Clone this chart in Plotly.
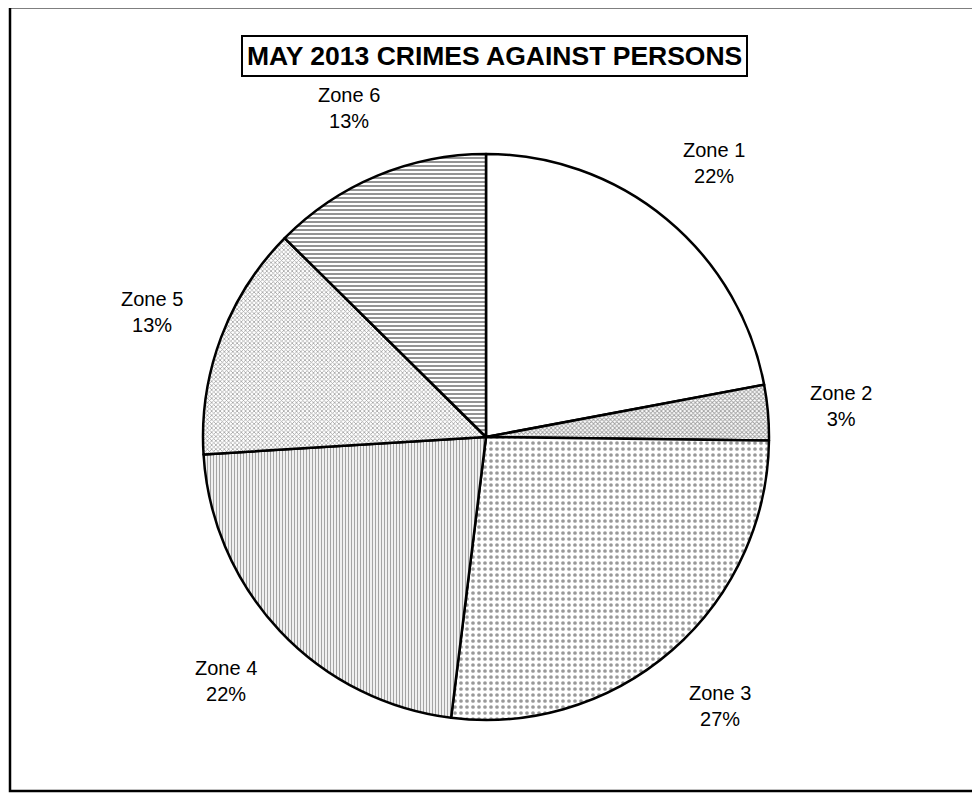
import math
import plotly.graph_objects as go

# ---- data ----
zones = ["Zone 1", "Zone 2", "Zone 3", "Zone 4", "Zone 5", "Zone 6"]
counts = [28, 4, 34, 28, 17, 16]
title_text = "MAY 2013 CRIMES AGAINST PERSONS"

# ---- layout geometry (figure pixels; page has an 8px body margin) ----
OFF = 8
W, H = 980 - OFF, 799 - OFF
CX, CY, R = 486 - OFF, 437 - OFF, 283
LABEL_K = 1.26

shapes_ = ["", "x", ".", "|", "x", "-"]
fg = ["#000000", "#3a3a3a", "#333333", "#4a4a4a", "#444444", "#2a2a2a"]
sizes = [6, 3, 6, 3, 3, 4]
solid = [0.3, 0.5, 0.3, 0.45, 0.45, 0.5]

dom_x = [(CX - R) / W, (CX + R) / W]
dom_y = [1 - (CY + R) / H, 1 - (CY - R) / H]

fig = go.Figure(go.Pie(
    labels=zones,
    values=counts,
    sort=False,
    direction="clockwise",
    rotation=0,
    textinfo="none",
    hoverinfo="label+percent",
    showlegend=False,
    domain=dict(x=dom_x, y=dom_y),
    marker=dict(
        colors=["white"] * len(zones),
        line=dict(color="black", width=2.5),
        pattern=dict(shape=shapes_, fgcolor=fg, bgcolor="white",
                     size=sizes, solidity=solid, fillmode="overlay"),
    ),
))

# labels placed at slice mid-angles
total = sum(counts)
annotations = []
cum = 0
for z, c in zip(zones, counts):
    mid = (cum + c / 2) / total
    cum += c
    th = 2 * math.pi * mid
    px = CX + LABEL_K * R * math.sin(th)
    py = CY - LABEL_K * R * math.cos(th)
    pct = round(100 * c / total)
    annotations.append(dict(
        x=px / W, y=1 - py / H, xref="paper", yref="paper",
        text=f"{z}<br>{pct}%", showarrow=False,
        font=dict(family="Arial, Liberation Sans, sans-serif", size=20, color="black"),
        align="center", xanchor="center", yanchor="middle",
    ))

annotations.append(dict(
    x=(494 - OFF) / W, y=1 - (56 - OFF) / H, xref="paper", yref="paper",
    text=f"<b>{title_text}</b>", showarrow=False,
    font=dict(family="Arial, Liberation Sans, sans-serif", size=26.5, color="black"),
    bordercolor="black", borderwidth=2, borderpad=4, bgcolor="white",
    xanchor="center", yanchor="middle",
))

fig.update_layout(
    width=W, height=H,
    margin=dict(l=0, r=0, t=0, b=0),
    paper_bgcolor="white",
    plot_bgcolor="white",
    annotations=annotations,
    shapes=[dict(type="rect", xref="paper", yref="paper",
                 x0=(10 - OFF) / W, x1=1.05, y0=1 - (791 - OFF) / H, y1=1 - (8 - OFF) / H + 0.001,
                 line=dict(color="black", width=2.5))],
)

fig.write_html("out.html")
